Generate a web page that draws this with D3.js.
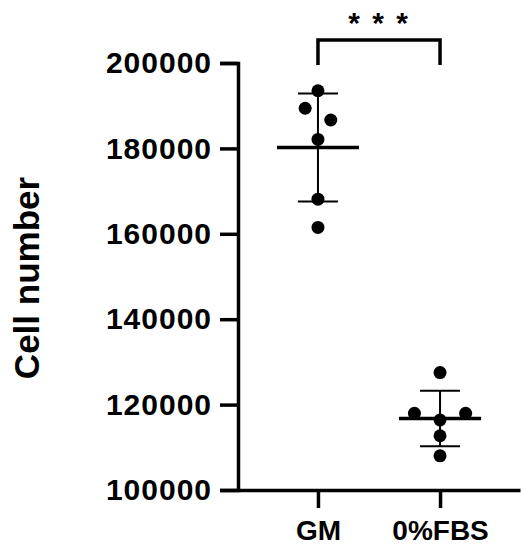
<!DOCTYPE html>
<html>
<head>
<meta charset="utf-8">
<script src="https://cdn.jsdelivr.net/npm/d3@7"></script>
<style>
  html, body { margin: 0; padding: 0; background: #fff; }
  svg text { font-family: Arial, "Liberation Sans", sans-serif; fill: #000; }
</style>
</head>
<body>
<div id="chart"></div>
<script>
// data
const categories = ["GM", "0%FBS"];
const gmValues = [193500, 189400, 186650, 182100, 168100, 161500];
const fbsValues = [127500, 117960, 116400, 117960, 112700, 108000];
// scatter lane of each dot (how Prism spreads dots sideways)
const gmLanes = [0, -1, 1, 0, 0, 0];
const fbsLanes = [0, -2, 0, 2, 0, 0];
const yTicks = [100000, 120000, 140000, 160000, 180000, 200000];
const significance = "* * *";

const groups = [
    { name: categories[0], values: gmValues, lanes: gmLanes },
    { name: categories[1], values: fbsValues, lanes: fbsLanes }
];

var width = 523, height = 552;

var svg = d3.select("#chart")
    .append("svg")
    .attr("width", width)
    .attr("height", height);

// X scale
var x = d3.scalePoint()
    .domain(categories)
    .range([238, 520])
    .padding(0.655);

// Y scale
var y = d3.scaleLinear()
    .domain([100000, 200000])
    .range([490, 63]);

// Y axis
var yAxis = svg.append("g")
    .attr("transform", "translate(238,0)")
    .call(d3.axisLeft(y).tickValues(yTicks).tickSize(18).tickPadding(8).tickFormat(d3.format("d")));
yAxis.select(".domain").attr("stroke-width", 3.5);
yAxis.selectAll(".tick line").attr("stroke-width", 3.5);
yAxis.selectAll("text")
    .style("font-size", "30px")
    .style("font-weight", "bold")
    .style("letter-spacing", "1px");

// X axis
var xAxis = svg.append("g")
    .attr("transform", "translate(0,490)")
    .call(d3.axisBottom(x).tickSize(18).tickSizeOuter(0).tickPadding(12));
xAxis.select(".domain").attr("stroke-width", 3.5);
xAxis.selectAll(".tick line").attr("stroke-width", 3.5);
xAxis.selectAll("text")
    .style("font-size", "28px")
    .style("font-weight", "bold");

// Y title
svg.append("text")
    .attr("transform", "rotate(-90)")
    .attr("x", -278)
    .attr("y", 39)
    .attr("text-anchor", "middle")
    .style("font-size", "35px")
    .style("font-weight", "bold")
    .text("Cell number");

// mean +/- SD and dots
var step = 12.8;
groups.forEach(g => {
    var cx = x(g.name);
    var m = d3.mean(g.values);
    var sd = d3.deviation(g.values);
    var gr = svg.append("g");

    gr.append("line")
        .attr("x1", cx).attr("x2", cx)
        .attr("y1", y(m + sd)).attr("y2", y(m - sd))
        .attr("stroke", "#000").attr("stroke-width", 2);

    [m + sd, m - sd].forEach(v => {
        gr.append("line")
            .attr("x1", cx - 20).attr("x2", cx + 20)
            .attr("y1", y(v)).attr("y2", y(v))
            .attr("stroke", "#000").attr("stroke-width", 2);
    });

    gr.selectAll("circle")
        .data(g.values)
        .join("circle")
        .attr("cx", (d, i) => cx + g.lanes[i] * step)
        .attr("cy", d => y(d))
        .attr("r", 6.5)
        .attr("fill", "#000");

    gr.append("line")
        .attr("x1", cx - 41).attr("x2", cx + 41)
        .attr("y1", y(m)).attr("y2", y(m))
        .attr("stroke", "#000").attr("stroke-width", 3.5);
});

// significance bracket
var x1 = x(categories[0]), x2 = x(categories[1]);
svg.append("path")
    .attr("d", "M" + x1 + ",65V40H" + x2 + "V65")
    .attr("fill", "none")
    .attr("stroke", "#000")
    .attr("stroke-width", 3.5);

svg.append("text")
    .attr("x", (x1 + x2) / 2)
    .attr("y", 33)
    .attr("text-anchor", "middle")
    .style("font-size", "30px")
    .style("font-weight", "bold")
    .style("letter-spacing", "2px")
    .text(significance);
</script>
</body>
</html>
